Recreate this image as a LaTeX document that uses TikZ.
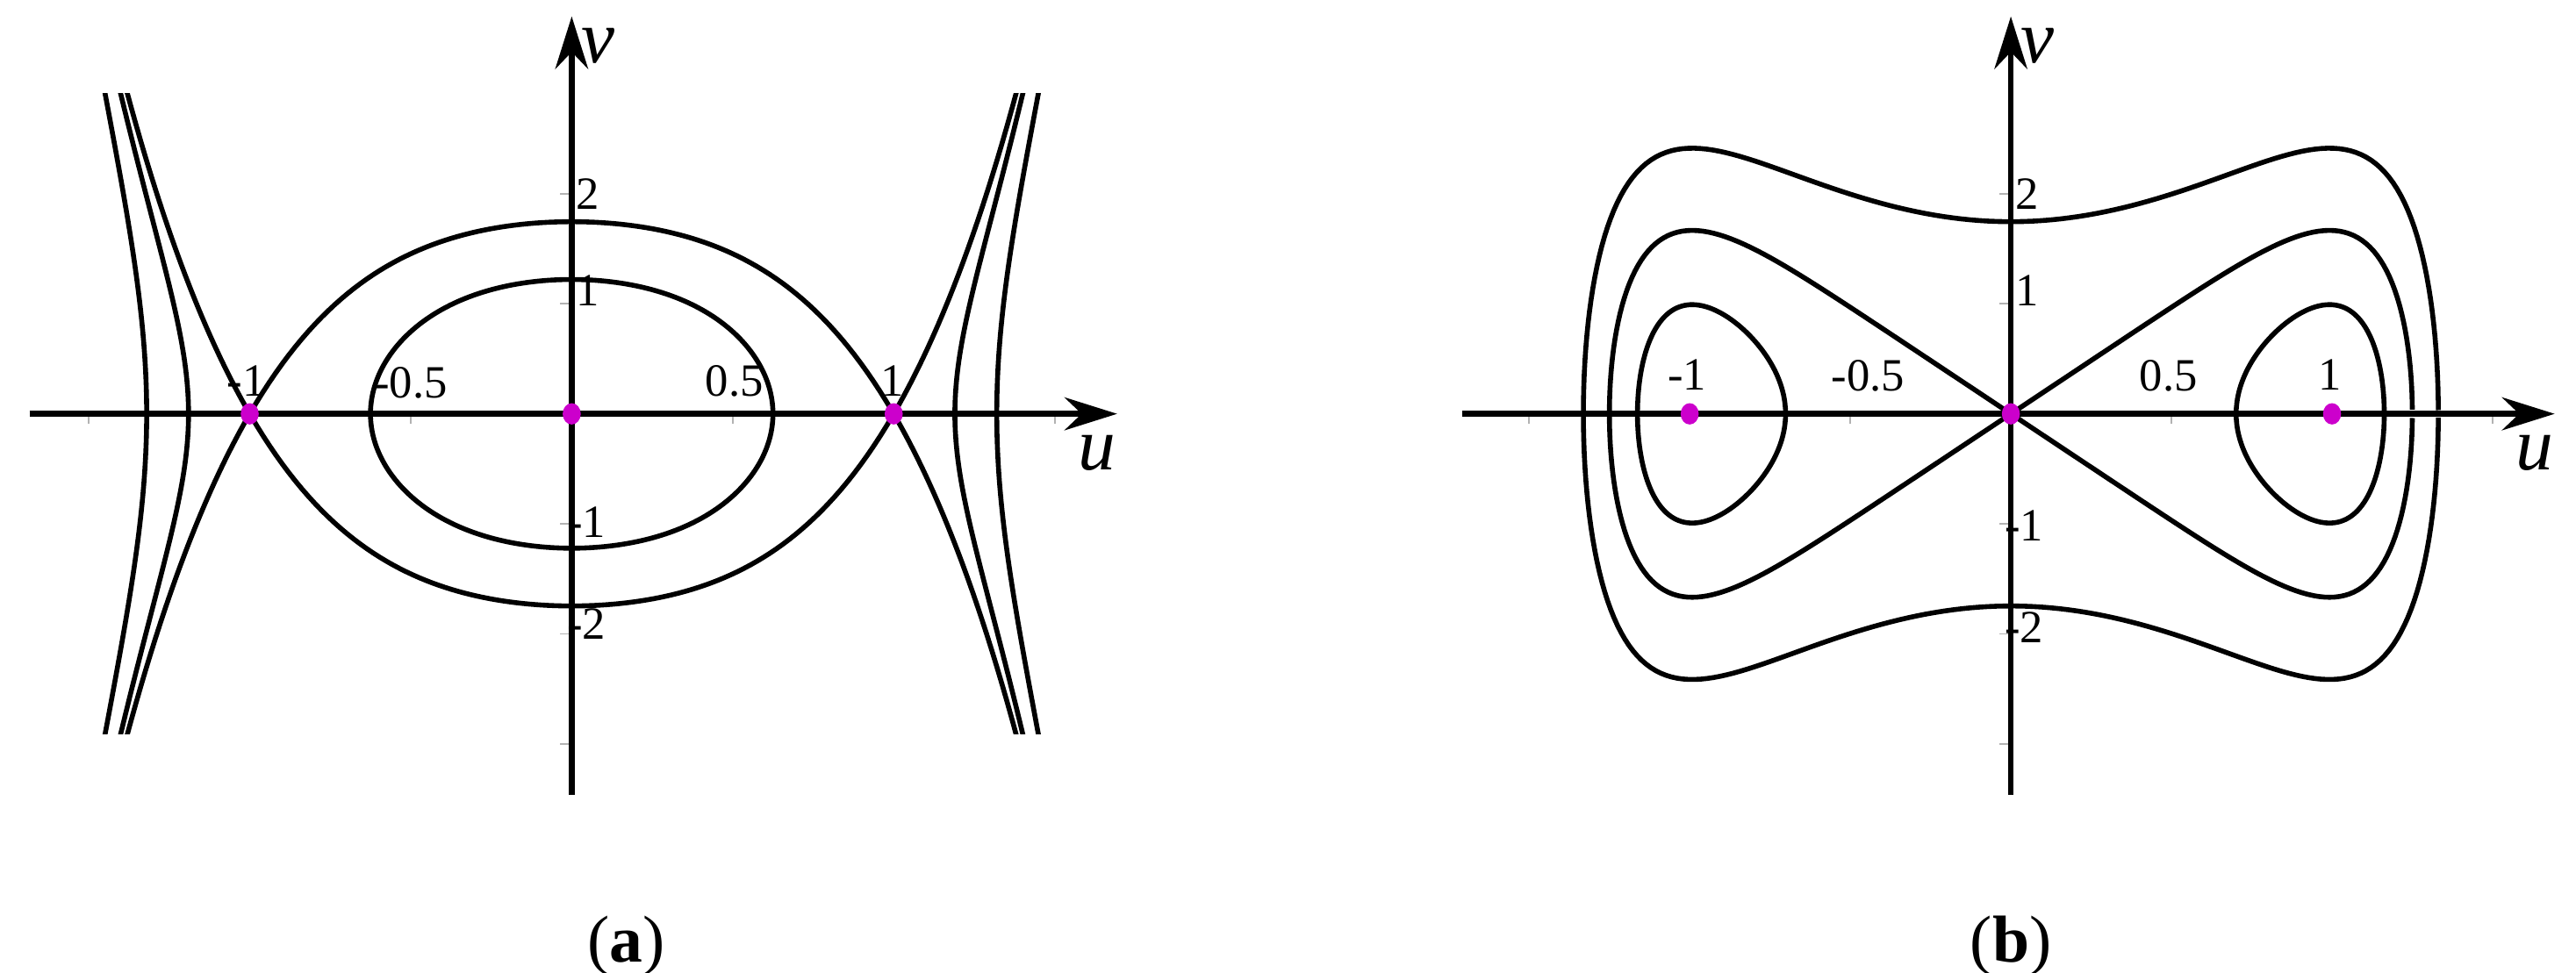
\documentclass[tikz,border=0pt]{standalone}
\usepackage{fontspec}
\setmainfont{Liberation Serif}
\usetikzlibrary{arrows.meta,shapes.geometric}
\begin{document}
\begin{tikzpicture}[x=0.1mm,y=-0.1mm,
  crv/.style={line width=0.85pt,line join=round},
  axis/.style={line width=1pt,-{Stealth[length=3.2mm,width=2mm]}},
  tk/.style={gray!60,line width=0.3pt},
  num/.style={font=\fontsize{8}{9}\selectfont,inner sep=0pt},
  var/.style={font=\fontsize{13}{14}\selectfont\itshape,inner sep=0pt},
  captxt/.style={font=\fontsize{11.5}{13}\selectfont,inner sep=0pt},
  eq/.style={fill=violet!40!magenta,draw=none,ellipse,minimum width=1.1mm,minimum height=1.3mm,inner sep=0pt},
  declare function={F(\u)=1.17*(1-\u*\u)*(1+0.443*\u*\u);
                    G(\u)=\u*\u*(1.69-0.443*\u*\u*\u*\u*\u*\u);}]
\useasboundingbox (0,0) rectangle (1568,592);
% ---------- (a) ----------
\begin{scope}[shift={(348,252)},x=1cm,y=1cm]
  \foreach \t in {-1.5,-0.5,0.5,1.5} \draw[tk] (1.96*\t,0) -- (1.96*\t,-0.06);
  \foreach \t in {-3,-2,-1,1,2} \draw[tk] (0,0.67*\t) -- (-0.07,0.67*\t);
  \foreach \s in {1,-1}{
    \draw[crv] plot[domain=-90:90,samples=120,variable=\t] ({1.96*0.625*sin(\t)},{\s*sqrt(max(0,F(0.625*sin(\t))^2-F(0.625)^2))});
    \draw[crv] plot[domain=-1:1,samples=100,variable=\u] ({1.96*\u},{\s*F(\u)});
  }
  \begin{scope}
    \clip (-4,-1.95) rectangle (4,1.95);
    \foreach \s in {1,-1}{
      \foreach \m in {1,-1}{
        \draw[crv] plot[domain=1:1.6,samples=40,variable=\u] ({\m*1.96*\u},{-\s*F(\u)});
        \foreach \a in {1.19,1.32}{
          \draw[crv] plot[domain=0:90,samples=60,variable=\t] ({\m*1.96*(\a+(1.6-\a)*(1-cos(\t)))},{\s*sqrt(max(0,F(\a+(1.6-\a)*(1-cos(\t)))^2-F(\a)^2))});
        }
      }
    }
  \end{scope}
  \draw[axis] (-3.30,0) coordinate (ua0) -- (3.32,0) coordinate (ua1);
  \draw[axis] (0,-2.32) coordinate (va0) -- (0,2.42) coordinate (va1);
  \node[eq] (pa1) at (-1.96,0) {};
  \node[eq] (pa0) at (0,0) {};
  \node[eq] (pa2) at (1.96,0) {};
\end{scope}
\node[num] (la1) at (150,232) {-1};
\node[num] (la2) at (250,233) {-0.5};
\node[num] (la3) at (447,232) {0.5};
\node[num] (la4) at (543,232) {1};
\node[num] (la5) at (358,118) {2};
\node[num] (la6) at (358,177) {1};
\node[num] (la7) at (357,318) {-1};
\node[num] (la8) at (357,380) {-2};
\node[var] (lau) at (668,276) {u};
\node[var] (lav) at (364,28) {v};
\node[captxt] (capa) at (381,576) {(\textbf{a})};
% ---------- (b) ----------
\begin{scope}[shift={(1224,252)},x=1cm,y=1cm]
  \foreach \t in {-1.5,-0.5,0.5,1.5} \draw[tk] (1.955*\t,0) -- (1.955*\t,-0.06);
  \foreach \t in {-3,-2,-1,1,2} \draw[tk] (0,0.67*\t) -- (-0.07,0.67*\t);
  \foreach \s in {1,-1}{
    \draw[crv] plot[domain=-90:90,samples=150,variable=\t] ({1.955*1.331*sin(\t)},{\s*sqrt(max(0,G(1.331*sin(\t))+1.3689))});
    \draw[crv] plot[domain=-90:90,samples=150,variable=\t] ({1.955*1.25*sin(\t)},{\s*sqrt(max(0,G(1.25*sin(\t))))});
    \foreach \m in {1,-1}{
      \draw[crv] plot[domain=-90:90,samples=80,variable=\t] ({\m*1.955*(0.931+0.232*sin(\t))},{\s*sqrt(max(0,G(0.931+0.232*sin(\t))-0.8055))});
    }
  }
  \draw[axis] (-3.34,0) coordinate (ub0) -- (3.31,0) coordinate (ub1);
  \draw[axis] (0,-2.32) coordinate (vb0) -- (0,2.42) coordinate (vb1);
  \node[eq] (pb1) at (-1.955,0) {};
  \node[eq] (pb0) at (0,0) {};
  \node[eq] (pb2) at (1.955,0) {};
\end{scope}
\node[num] (lb1) at (1027,228) {-1};
\node[num] (lb2) at (1137,229) {-0.5};
\node[num] (lb3) at (1320,229) {0.5};
\node[num] (lb4) at (1418,228) {1};
\node[num] (lb5) at (1234,118) {2};
\node[num] (lb6) at (1234,177) {1};
\node[num] (lb7) at (1232,320) {-1};
\node[num] (lb8) at (1232,382) {-2};
\node[var] (lbu) at (1543,276) {u};
\node[var] (lbv) at (1240,28) {v};
\node[captxt] (capb) at (1224,576) {(\textbf{b})};
\end{tikzpicture}
\end{document}
